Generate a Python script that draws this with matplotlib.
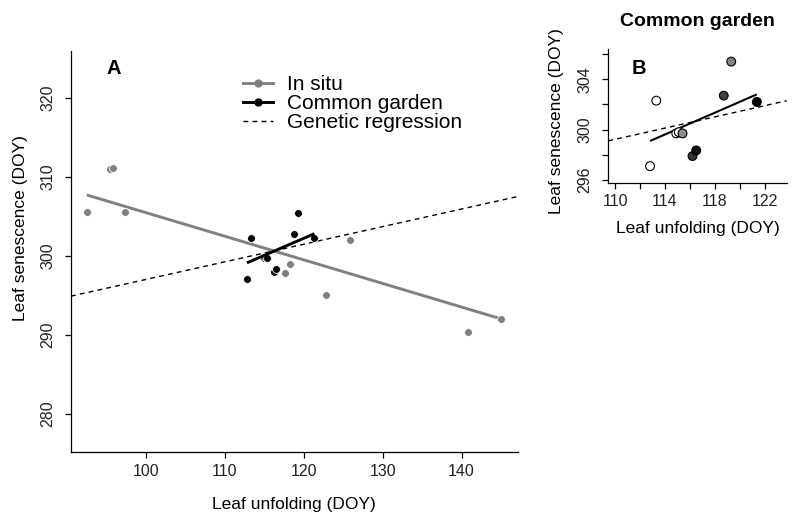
import numpy as np
import matplotlib
matplotlib.use('Agg')
import matplotlib.pyplot as plt
from matplotlib.lines import Line2D

plt.rcParams['font.family'] = ['Liberation Sans', 'DejaVu Sans']

# In situ populations (panel A, grey)
insitu_unfold = [92.5, 95.5, 95.8, 97.3, 117.6, 118.3, 122.8, 125.9, 140.8, 145.0]
insitu_senes = [305.6, 311.0, 311.1, 305.6, 297.8, 299.0, 295.0, 302.0, 290.3, 292.0]

# Common garden populations (panel A black, panel B shaded)
garden_unfold = [112.8, 113.3, 114.9, 115.1, 115.4, 116.2, 116.5, 118.7, 119.3, 121.35]
garden_senes = [297.1, 302.3, 299.7, 299.8, 299.7, 297.9, 298.35, 302.7, 305.4, 302.2]
garden_fill = ['white', 'white', 'white', 'white', '#8c8c8c', '#333333',
               '#111111', '#3d3d3d', '#858585', '#000000']

# regression lines (slope, intercept)
insitu_fit = (-0.299, 335.36)
garden_fit = (0.4327, 250.29)
genetic_fit = (0.223, 274.7)

W, H = 800, 522
fig = plt.figure(figsize=(8, 5.22), dpi=100)

def px_axes(x0, y0, x1, y1):
    return fig.add_axes([x0 / W, 1 - y1 / H, (x1 - x0) / W, (y1 - y0) / H])

def style(ax):
    for s in ['top', 'right']:
        ax.spines[s].set_visible(False)
    for s in ['left', 'bottom']:
        ax.spines[s].set_linewidth(0.9)
    ax.tick_params(direction='out', length=4.5, width=0.9, labelsize=11.5,
                   labelcolor='#222222')
    ax.tick_params(axis='x', pad=4)
    ax.tick_params(axis='y', pad=7)
    for lab in ax.get_yticklabels():
        lab.set_rotation(90)
        lab.set_va('center')

# ---------- Panel A ----------
axA = px_axes(71, 51.3, 517.6, 452.3)
axA.set_xlim(90.5, 147.1)
axA.set_ylim(275.1, 325.9)
axA.set_xticks([100, 110, 120, 130, 140])
axA.set_yticks([280, 290, 300, 310, 320])

xx = np.array(axA.get_xlim())
axA.plot(xx, genetic_fit[0] * xx + genetic_fit[1], color='black', lw=1, dashes=(3.5, 3))

xi = np.array([min(insitu_unfold), max(insitu_unfold)])
axA.plot(xi, insitu_fit[0] * xi + insitu_fit[1], color='#808080', lw=2.1, solid_capstyle='butt')
axA.scatter(insitu_unfold, insitu_senes, s=32, c='#808080', edgecolors='white', linewidths=0.6, zorder=3)

axA.scatter(garden_unfold, garden_senes, s=32, c='black', edgecolors='white', linewidths=0.6, zorder=4)
xg = np.array([min(garden_unfold), max(garden_unfold)])
axA.plot(xg, garden_fit[0] * xg + garden_fit[1], color='black', lw=2.1, zorder=5, solid_capstyle='butt')
style(axA)

handles = [Line2D([], [], color='#808080', lw=2.1, marker='o', ms=5, mec='#808080'),
           Line2D([], [], color='black', lw=2.1, marker='o', ms=5),
           Line2D([], [], color='black', lw=1, dashes=(3.5, 3))]
axA.legend(handles, ['In situ', 'Common garden', 'Genetic regression'],
           loc='upper left', bbox_to_anchor=(243 / W, 1 - 75 / H),
           bbox_transform=fig.transFigure, frameon=False, fontsize=15,
           handlelength=1.45, handletextpad=0.65, labelspacing=0.0,
           borderpad=0, borderaxespad=0)

fig.text(114 / W, 1 - 68 / H, 'A', fontsize=14.5, fontweight='bold', ha='center', va='center')
fig.text(294.3 / W, 1 - 505 / H, 'Leaf unfolding (DOY)', fontsize=12.5, ha='center', va='center')
fig.text(20.7 / W, 1 - 228 / H, 'Leaf senescence (DOY)', fontsize=12.5, ha='center', va='center', rotation=90)

# ---------- Panel B ----------
axB = px_axes(608.3, 49, 786.7, 183.3)
axB.set_xlim(109.46, 123.74)
axB.set_ylim(295.74, 306.4)
axB.set_xticks(np.arange(110, 123, 2))
axB.set_xticklabels([str(v) if v % 4 == 2 else '' for v in range(110, 123, 2)])
axB.set_yticks(np.arange(296, 307, 2))
axB.set_yticklabels([str(v) if v % 4 == 0 else '' for v in range(296, 307, 2)])

xb = np.array(axB.get_xlim())
axB.plot(xb, genetic_fit[0] * xb + genetic_fit[1], color='black', lw=1, dashes=(3.5, 3))
axB.plot(xg, garden_fit[0] * xg + garden_fit[1], color='black', lw=1.5, solid_capstyle='butt')
axB.scatter(garden_unfold, garden_senes, s=40, c=garden_fill, edgecolors='black', linewidths=0.8, zorder=3)
style(axB)
axB.tick_params(axis='x', pad=3)

fig.text(639 / W, 1 - 68.3 / H, 'B', fontsize=14.5, fontweight='bold', ha='center', va='center')
fig.text(697 / W, 1 - 21.5 / H, 'Common garden', fontsize=14, fontweight='bold', ha='center', va='center')
fig.text(697.5 / W, 1 - 229 / H, 'Leaf unfolding (DOY)', fontsize=12.5, ha='center', va='center')
fig.text(556 / W, 1 - 121.5 / H, 'Leaf senescence (DOY)', fontsize=12.5, ha='center', va='center', rotation=90)

fig.savefig('out.png', dpi=100)
